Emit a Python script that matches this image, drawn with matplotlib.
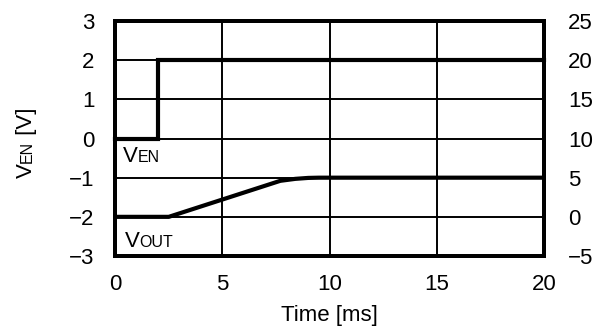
import numpy as np
import matplotlib.pyplot as plt

plt.rcParams['font.family'] = ['Liberation Sans', 'DejaVu Sans']

# V_EN (left axis, V)
t_en = [0, 2, 2, 20]
v_en = [0, 0, 2, 2]

# V_OUT (right axis, V)
t_out = [0, 2.5, 7.7, 8.4, 9.0, 9.5, 20]
v_out = [0, 0, 4.6, 4.85, 4.97, 5, 5]

xticks = [0, 5, 10, 15, 20]
yticks_l = [-3, -2, -1, 0, 1, 2, 3]
yticks_r = [-5, 0, 5, 10, 15, 20, 25]

fs = 16
small = 11.5
lw_data = 3.0
lw_spine = 2.8

fig = plt.figure(figsize=(6.06, 3.34), dpi=100)
ax = fig.add_axes([0.19, 0.2335, 0.708, 0.7036])
ax2 = ax.twinx()

ax.set_xlim(0, 20)
ax.set_ylim(-3, 3)
ax2.set_ylim(-5, 25)
ax.set_xticks(xticks)
ax.set_yticks(yticks_l)
ax2.set_yticks(yticks_r)
ax.grid(True, color='black', lw=1.4)

ax.plot(t_en, v_en, color='black', lw=lw_data, solid_joinstyle='miter', clip_on=False, zorder=3)
ax2.plot(t_out, v_out, color='black', lw=lw_data, solid_joinstyle='round', zorder=3)

ax.tick_params(axis='both', length=0, labelsize=fs)
ax.tick_params(axis='y', pad=15)
ax.tick_params(axis='x', pad=13)
ax2.tick_params(axis='y', length=0, labelsize=fs, pad=17)
for a in (ax, ax2):
    for s in a.spines.values():
        s.set_linewidth(lw_spine)

ax.set_xlabel('Time [ms]', fontsize=fs, labelpad=7)

# in-plot labels, small suffix on the same baseline
adv = 0.64 * fs
ax.text(0.37, -0.61, 'V', fontsize=fs, ha='left', va='baseline')
ax.annotate('EN', xy=(0.37, -0.61), xytext=(adv, 0), textcoords='offset points',
            fontsize=small, ha='left', va='baseline')
ax.text(0.47, -2.76, 'V', fontsize=fs, ha='left', va='baseline')
ax.annotate('OUT', xy=(0.47, -2.76), xytext=(adv, 0), textcoords='offset points',
            fontsize=small, ha='left', va='baseline')

# y label V_EN [V], rotated, pieces on one baseline
x0, y0 = 0.053 * 606, 0.467 * 334
yl = fig.text(x0, y0, 'V', fontsize=fs, rotation=90, rotation_mode='anchor',
              ha='left', va='baseline', transform=None)
fig.canvas.draw()
r = fig.canvas.get_renderer()
y1 = y0 + yl.get_window_extent(r).height
yl2 = fig.text(x0, y1, 'EN', fontsize=small, rotation=90, rotation_mode='anchor',
               ha='left', va='baseline', transform=None)
fig.canvas.draw()
y2 = y1 + yl2.get_window_extent(r).height
fig.text(x0, y2, ' [V]', fontsize=fs, rotation=90, rotation_mode='anchor',
         ha='left', va='baseline', transform=None)

fig.savefig('out.png', dpi=100)
